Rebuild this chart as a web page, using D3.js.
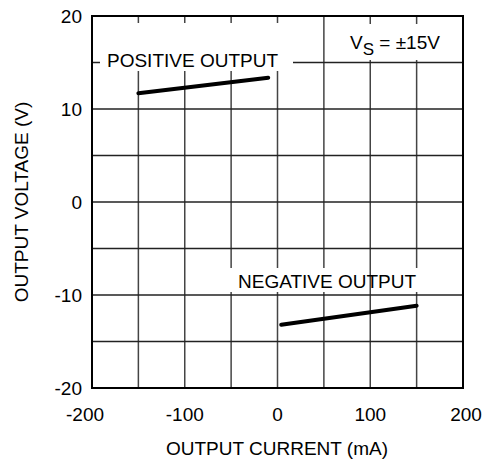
<!DOCTYPE html>
<html><head><meta charset="utf-8">
<script src="https://cdn.jsdelivr.net/npm/d3@7"></script>
<style>body{margin:0;background:#fff}svg text{font-family:"Liberation Sans",Arial,sans-serif}</style>
</head><body><svg id="c" width="485" height="470"></svg>
<script>
const xTicks = [-200, -100, 0, 100, 200];
const yTicks = [-20, -10, 0, 10, 20];
const xGrid = [-150, -100, -50, 0, 50, 100, 150];
const yGrid = [-15, -10, -5, 0, 5, 10, 15];
const positiveCurrent = [-150, -10];
const positiveVoltage = [11.7, 13.35];
const negativeCurrent = [4, 150];
const negativeVoltage = [-13.2, -11.15];

const svg = d3.select("#c");
const L = 92, R = 463, T = 16, B = 388;
const x = d3.scaleLinear().domain([-200, 200]).range([L, R]);
const y = d3.scaleLinear().domain([-20, 20]).range([B, T]);

// grid
svg.append("g").selectAll("line").data(xGrid).join("line")
  .attr("x1", d => x(d)).attr("x2", d => x(d)).attr("y1", T).attr("y2", B)
  .attr("stroke", "#444").attr("stroke-width", 1.5);
svg.append("g").selectAll("line").data(yGrid).join("line")
  .attr("x1", L).attr("x2", R).attr("y1", d => y(d)).attr("y2", d => y(d))
  .attr("stroke", "#222").attr("stroke-width", 1.3);

// label background boxes
const boxes = [[100, 23, 193, 48], [229, 268, 139, 24], [374, 268, 48, 24], [340, 24, 115, 36]];
svg.append("g").selectAll("rect").data(boxes).join("rect")
  .attr("x", d => d[0]).attr("y", d => d[1]).attr("width", d => d[2]).attr("height", d => d[3])
  .attr("fill", "#fff");

// frame
svg.append("rect").attr("x", L).attr("y", T).attr("width", R - L).attr("height", B - T)
  .attr("fill", "none").attr("stroke", "#000").attr("stroke-width", 2);

// data lines
const line = d3.line().x(d => x(d[0])).y(d => y(d[1]));
svg.append("path").datum(d3.zip(positiveCurrent, positiveVoltage)).attr("d", line)
  .attr("fill", "none").attr("stroke", "#000").attr("stroke-width", 4).attr("stroke-linecap", "round");
svg.append("path").datum(d3.zip(negativeCurrent, negativeVoltage)).attr("d", line)
  .attr("fill", "none").attr("stroke", "#000").attr("stroke-width", 4).attr("stroke-linecap", "round");

// tick labels
svg.append("g").selectAll("text").data(xTicks).join("text")
  .attr("x", d => x(d) + (d === -200 ? -7 : d === 200 ? 3 : 0)).attr("y", 421).attr("text-anchor", "middle")
  .attr("font-size", 19).text(d => d);
svg.append("g").selectAll("text").data(yTicks).join("text")
  .attr("x", 82).attr("y", d => y(d) + 7).attr("text-anchor", "end")
  .attr("font-size", 19).text(d => d);

// axis titles
svg.append("text").attr("x", 277).attr("y", 455).attr("text-anchor", "middle")
  .attr("font-size", 19).text("OUTPUT CURRENT (mA)");
svg.append("text").attr("transform", `translate(28,${y(0)}) rotate(-90)`).attr("text-anchor", "middle")
  .attr("font-size", 19).text("OUTPUT VOLTAGE (V)");

// annotations
svg.append("text").attr("x", 107).attr("y", 67).attr("font-size", 19).text("POSITIVE OUTPUT");
svg.append("text").attr("x", 238).attr("y", 288).attr("font-size", 19).text("NEGATIVE OUTPUT");
const vs = svg.append("text").attr("x", 350).attr("y", 49).attr("font-size", 19);
vs.append("tspan").text("V");
vs.append("tspan").attr("dy", 6).attr("font-size", 17).text("S");
vs.append("tspan").attr("dy", -6).text(" = ±15V");
</script></body></html>
